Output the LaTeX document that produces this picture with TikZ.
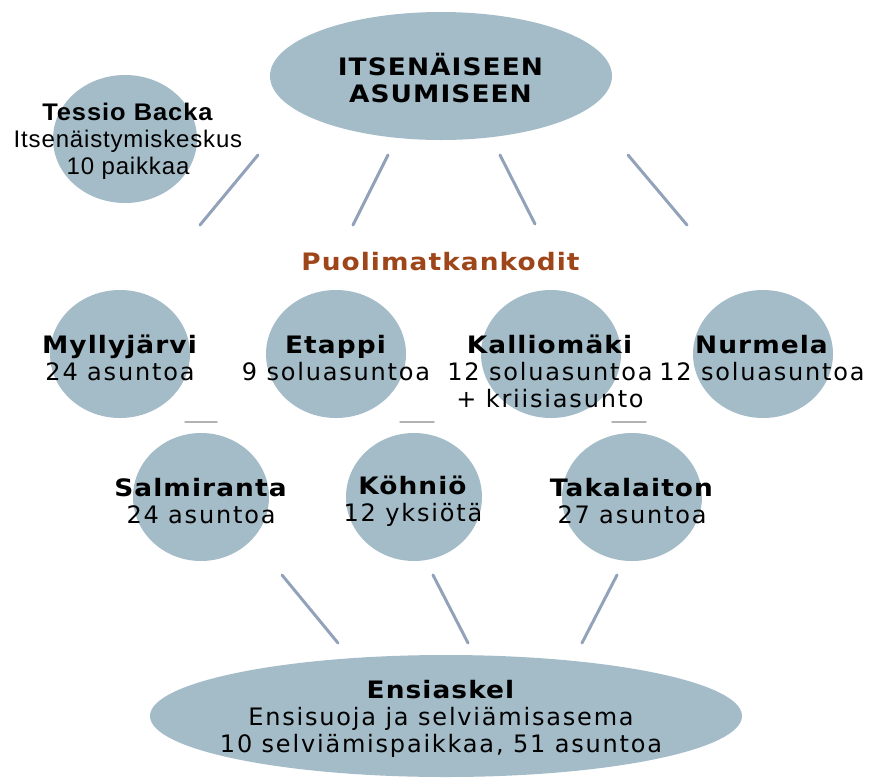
\documentclass[tikz,border=0pt]{standalone}
\usepackage{fontspec}
\setmainfont{DejaVu Sans}[LetterSpace=7.5, BoldFeatures={FakeStretch=1.1, LetterSpace=4.5}]
\newfontfamily\arialfont{Liberation Sans}[LetterSpace=3.5, BoldFeatures={FakeStretch=1.06, LetterSpace=4}]
\usetikzlibrary{shapes.geometric}
\definecolor{diskblue}{RGB}{164,188,200}
\definecolor{linkblue}{RGB}{146,162,184}
\definecolor{homebrown}{RGB}{158,70,26}
\tikzset{
	disk/.style={ellipse, fill=diskblue, inner sep=0pt, minimum width=140pt, minimum height=128pt},
	txt/.style={align=center, inner sep=0pt, font=\fontsize{24}{27}\selectfont},
	link/.style={draw=linkblue, line width=3pt, line cap=round},
	rim/.style={draw=black!30, line width=1.5pt, line cap=round}
}
\begin{document}
\begin{tikzpicture}[x=1pt,y=-1pt]
	\useasboundingbox (0,0) rectangle (870,780);
	% shapes
	\node (A)  at (441, 76)	[disk, minimum width=342pt]	{};
	\node (B)  at (125,139)	[disk, minimum width=144pt]	{};
	\node (M1) at (120,354)	[disk]	{};
	\node (M2) at (336,354)	[disk]	{};
	\node (M3) at (551,354)	[disk]	{};
	\node (M4) at (763,354)	[disk]	{};
	\node (S1) at (201,497)	[disk, minimum width=136pt]	{};
	\node (S2) at (414,497)	[disk, minimum width=136pt]	{};
	\node (S3) at (632,497)	[disk]	{};
	\node (E)  at (446,716)	[disk, minimum width=592pt, minimum height=122pt]	{};
	% rims above the lower row
	\draw[rim] (185,422) -- (217,422);
	\draw[rim] (400,422) -- (434,422);
	\draw[rim] (612,422) -- (646,422);
	% texts
	\node (At) at (441, 78)	[txt]	{\textbf{ITSENÄISEEN}\\\textbf{ASUMISEEN}};
	\node (Bt) at (128,141)	[txt, font=\arialfont\fontsize{24}{27}\selectfont]	{\textbf{Tessio Backa}\\Itsenäistymiskeskus\\10 paikkaa};
	\node (P)  at (441,262)	[txt, text=homebrown]	{\textbf{Puolimatkankodit}};
	\node (M1t) at (120,358)	[txt]	{\textbf{Myllyjärvi}\\24 asuntoa};
	\node (M2t) at (336,358)	[txt]	{\textbf{Etappi}\\9 soluasuntoa};
	\node (M3t) at (550,371)	[txt]	{\textbf{Kalliomäki}\\12 soluasuntoa\\+ kriisiasunto};
	\node (M4t) at (762,358)	[txt]	{\textbf{Nurmela}\\12 soluasuntoa};
	\node (S1t) at (201,501)	[txt]	{\textbf{Salmiranta}\\24 asuntoa};
	\node (S2t) at (413,501)	[txt]	{\textbf{Köhniö}\\12 yksiötä};
	\node (S3t) at (632,501)	[txt]	{\textbf{Takalaiton}\\27 asuntoa};
	\node (Et)  at (441,719)	[txt]	{\textbf{Ensiaskel}\\Ensisuoja ja selviämisasema\\10 selviämispaikkaa, 51 asuntoa};
	% line ends
	\coordinate (u1a) at (258,155);	\coordinate (u1b) at (200,225);
	\coordinate (u2a) at (388,155);	\coordinate (u2b) at (353,225);
	\coordinate (u3a) at (500,155);	\coordinate (u3b) at (535,224);
	\coordinate (u4a) at (628,155);	\coordinate (u4b) at (687,225);
	\coordinate (d1a) at (282,575);	\coordinate (d1b) at (338,643);
	\coordinate (d2a) at (433,575);	\coordinate (d2b) at (468,643);
	\coordinate (d3a) at (617,575);	\coordinate (d3b) at (582,643);
	\draw[link] (u1a) -- (u1b);
	\draw[link] (u2a) -- (u2b);
	\draw[link] (u3a) -- (u3b);
	\draw[link] (u4a) -- (u4b);
	\draw[link] (d1a) -- (d1b);
	\draw[link] (d2a) -- (d2b);
	\draw[link] (d3a) -- (d3b);
\end{tikzpicture}
\end{document}
